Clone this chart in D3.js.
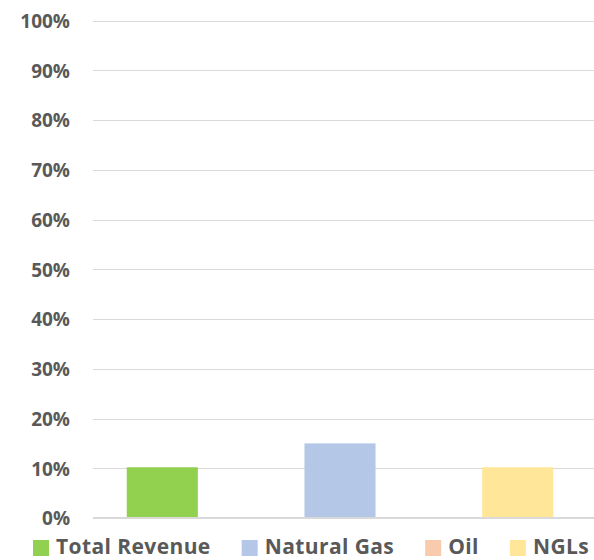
<!DOCTYPE html>
<html>
<head>
<meta charset="utf-8">
<script src="https://cdn.jsdelivr.net/npm/d3@7"></script>
<style>
  html, body { margin: 0; padding: 0; background: #fff; }
  svg { display: block; }
  text { font-family: "Open Sans", sans-serif; font-weight: 700; fill: #595959; }
</style>
</head>
<body>
<svg id="chart" width="594" height="560"></svg>
<script>
// Share of change by product line (percent)
const categories = ["Total Revenue", "Natural Gas", "Oil", "NGLs"];
const values = [10.2, 15.0, null, 10.2];
const colors = ["#92d050", "#b4c7e7", "#f8cbad", "#ffe699"];
const yTicks = [0, 10, 20, 30, 40, 50, 60, 70, 80, 90, 100];

const svg = d3.select("#chart");
const plot = { left: 93, right: 594, top: 20.5, bottom: 518 };

const data = categories.map((c, i) => ({ name: c, value: values[i], color: colors[i] }));
const plotted = data.filter(d => d.value != null);

const y = d3.scaleLinear().domain([0, 100]).range([plot.bottom, plot.top]);
const x = d3.scaleBand()
  .domain(plotted.map(d => d.name))
  .range([plot.left, 587])
  .paddingInner(0.6)
  .paddingOuter(0.19);

// horizontal gridlines
svg.append("g")
  .selectAll("line")
  .data(yTicks.filter(t => t > 0))
  .join("line")
  .attr("x1", plot.left).attr("x2", plot.right)
  .attr("y1", d => Math.round(y(d)) + 0.5).attr("y2", d => Math.round(y(d)) + 0.5)
  .attr("stroke", "#d9d9d9").attr("stroke-width", 1);

// bars
svg.append("g")
  .selectAll("rect")
  .data(plotted)
  .join("rect")
  .attr("x", d => x(d.name))
  .attr("width", x.bandwidth())
  .attr("y", d => y(d.value))
  .attr("height", d => y(0) - y(d.value))
  .attr("fill", d => d.color);

// baseline
svg.append("line")
  .attr("x1", plot.left).attr("x2", plot.right)
  .attr("y1", y(0)).attr("y2", y(0))
  .attr("stroke", "#d9d9d9").attr("stroke-width", 2);

// y axis labels
const yAxis = d3.axisLeft(y).tickValues(yTicks).tickFormat(d => d + "%").tickSize(0).tickPadding(0);
const gy = svg.append("g").attr("transform", "translate(70,0)").call(yAxis);
gy.select(".domain").remove();
gy.selectAll("text")
  .attr("font-family", "'Open Sans', sans-serif")
  .attr("font-weight", 700)
  .attr("font-size", 19)
  .attr("fill", "#595959")
  .attr("dy", "0.36em");

// legend
const legend = svg.append("g").attr("transform", "translate(33,0)");
let lx = 0;
data.forEach(d => {
  const item = legend.append("g").attr("transform", `translate(${lx},0)`);
  item.append("rect").attr("x", 0).attr("y", 540).attr("width", 16).attr("height", 16).attr("fill", d.color);
  const t = item.append("text")
    .attr("x", 23).attr("y", 554)
    .attr("font-size", 21)
    .attr("letter-spacing", 0.4)
    .text(d.name);
  lx += 23 + t.node().getComputedTextLength() + 31;
});
</script>
</body>
</html>
